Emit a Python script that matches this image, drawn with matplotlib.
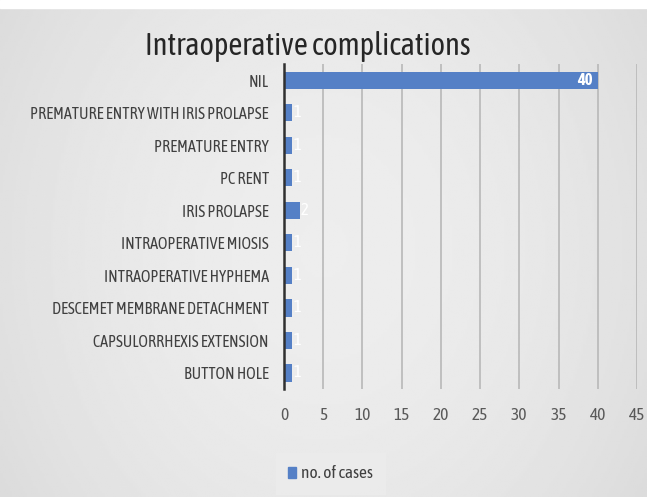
import numpy as np
import matplotlib.pyplot as plt

# categories listed top to bottom as in the chart
categories = [
    'NIL',
    'PREMATURE ENTRY WITH IRIS PROLAPSE',
    'PREMATURE ENTRY',
    'PC RENT',
    'IRIS PROLAPSE',
    'INTRAOPERATIVE MIOSIS',
    'INTRAOPERATIVE HYPHEMA',
    'DESCEMET MEMBRANE DETACHMENT',
    'CAPSULORRHEXIS EXTENSION',
    'BUTTON HOLE',
]
cases = [40, 1, 1, 1, 2, 1, 1, 1, 1, 1]
xticks = [0, 5, 10, 15, 20, 25, 30, 35, 40, 45]

plt.rcParams['font.family'] = ['Asap Condensed', 'DejaVu Sans']

bar_color = '#5580c6'

fig = plt.figure(figsize=(6.47, 4.97), dpi=100)

# soft gray background gradient
bg = fig.add_axes([0, 0, 1, 1], zorder=-1)
xx = np.linspace(-1, 1, 300)
yy = np.linspace(-1, 1, 200)
X, Y = np.meshgrid(xx, yy)
shade = 0.93 - 0.05 * X ** 2 - 0.02 * Y ** 2
bg.imshow(shade, cmap='gray', vmin=0, vmax=1, aspect='auto', extent=[0, 1, 0, 1])
bg.axhspan(0.984, 1, color='white')
bg.set_xlim(0, 1)
bg.set_ylim(0, 1)
bg.axis('off')

ax = fig.add_axes([0.439, 0.217, 0.5455, 0.654])
ax.patch.set_alpha(0)
y = np.arange(len(categories))
bars = ax.barh(y, cases, height=0.53, color=bar_color, zorder=3)
ax.set_ylim(len(categories) - 0.5, -0.5)
ax.set_xlim(0, 45)
ax.set_yticks(y)
ax.set_yticklabels(categories, fontsize=11.6, color='#404040')
ax.set_xticks(xticks)
ax.set_xticklabels([str(t) for t in xticks], fontsize=12.5, color='#595959')
ax.tick_params(axis='both', length=0)
ax.tick_params(axis='x', pad=13)
ax.tick_params(axis='y', pad=11)
ax.grid(axis='x', color='#b8b8b8', linewidth=1.2, zorder=0)
for side in ['top', 'right', 'bottom']:
    ax.spines[side].set_visible(False)
ax.spines['left'].set_color('#303030')
ax.spines['left'].set_linewidth(1.8)
ax.spines['left'].set_zorder(4)

for b, v in zip(bars, cases):
    if v >= 10:
        ax.text(v - 0.7, b.get_y() + b.get_height() / 2, str(v), ha='right', va='center',
                color='white', fontsize=12, fontweight='bold', zorder=5)
    else:
        ax.text(v + 0.15, b.get_y() + b.get_height() / 2, str(v), ha='left', va='center',
                color='white', fontsize=12, zorder=5)

fig.text(0.476, 0.907, 'Intraoperative complications', ha='center', va='center',
         fontsize=22, color='#262626')

leg = fig.legend([plt.Rectangle((0, 0), 1, 1, color=bar_color)], ['no. of cases'],
                 loc='center', bbox_to_anchor=(0.5105, 0.047), fontsize=12.5,
                 handlelength=0.45, handleheight=0.6, handletextpad=0.3,
                 frameon=True, fancybox=False, borderpad=0.7)
leg.get_frame().set_facecolor('#ececec')
leg.get_frame().set_edgecolor('#ececec')
for t in leg.get_texts():
    t.set_color('#404040')

fig.savefig('out.png', dpi=100)
